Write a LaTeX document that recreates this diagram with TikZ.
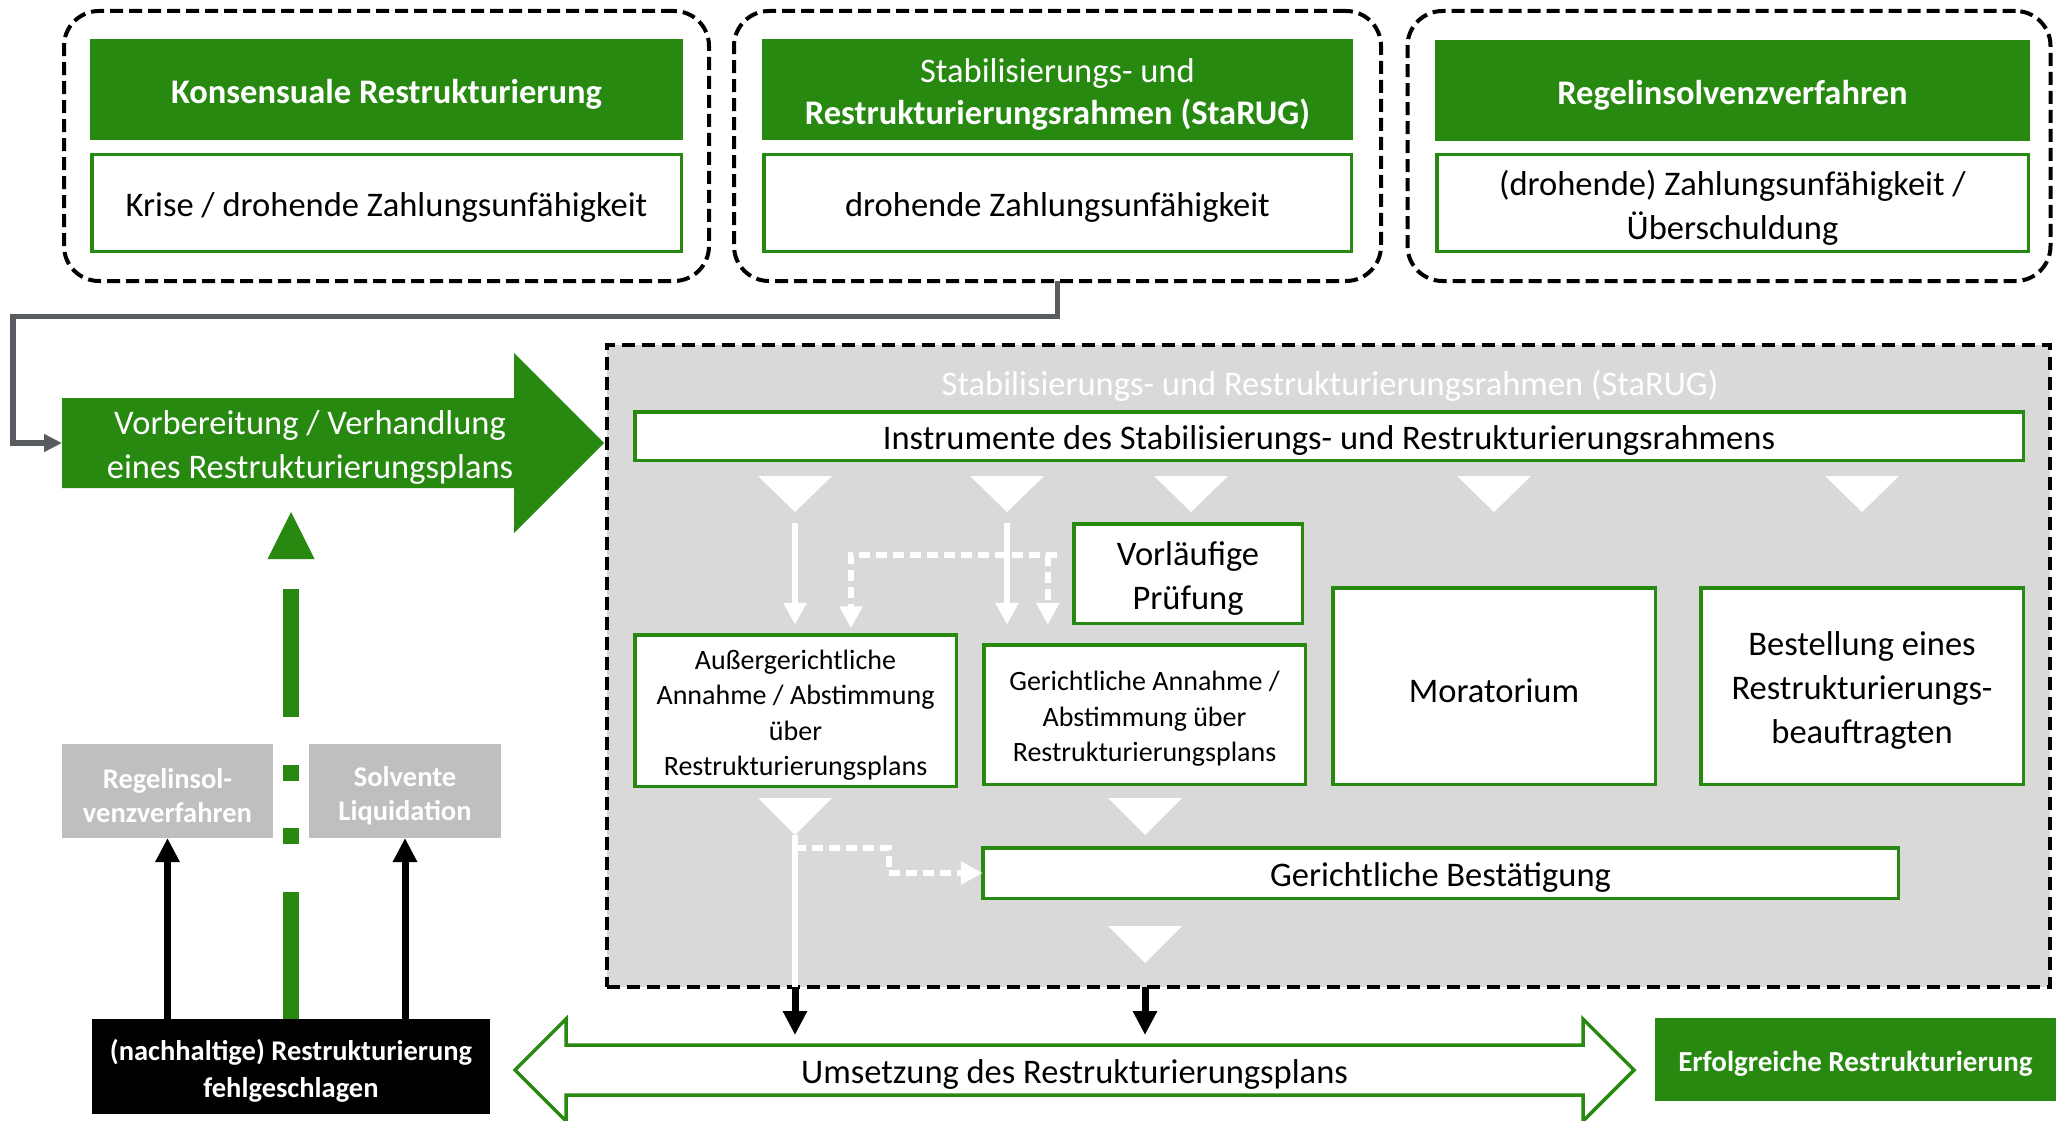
\documentclass[tikz,border=0pt]{standalone}
\usepackage{fontspec}
\setmainfont{Carlito}
\usetikzlibrary{arrows.meta}
\definecolor{grn}{RGB}{40,137,16}
\definecolor{lgray}{RGB}{217,217,217}
\definecolor{mgray}{RGB}{191,191,191}
\definecolor{dgray}{RGB}{88,91,96}
\newcommand\fsM{\fontsize{34.5}{44}\selectfont}
\newcommand\fsH{\fontsize{34.5}{42}\selectfont}
\newcommand\fsS{\fontsize{28}{35.5}\selectfont}
\newcommand\fsB{\fontsize{28.5}{36.5}\selectfont\bfseries}
\newcommand\fsG{\fontsize{28.5}{34}\selectfont\bfseries}
\newcommand\fsE{\fontsize{29}{35}\selectfont\bfseries}
% text of a box, set a little lower than the geometric centre
\newcommand\btext[3]{\node[#2] (#1t) at ([yshift=-4.5pt]#1.center) {#3};}
\begin{document}
\begin{tikzpicture}[x=1pt,y=-1pt,
  every node/.style={inner sep=0pt,outer sep=0pt,align=center},
  frame/.style={draw=black,line width=4pt,dash pattern=on 13pt off 6pt,rounded corners=35pt},
  headbox/.style={fill=grn},
  wbox/.style={draw=grn,fill=white,line width=3.5pt},
  graybox/.style={fill=mgray},
  tH/.style={text=white,font=\fsH},
  tM/.style={text=black,font=\fsM},
  tS/.style={text=black,font=\fsS},
  tG/.style={text=white,font=\fsG},
  warr/.style={draw=white,line width=6.5pt,-{Triangle[width=22pt,length=22pt]}},
  wline/.style={draw=white,line width=6.5pt},
  dotarr/.style={draw=white,line width=6pt,dash pattern=on 11pt off 6pt,-{Triangle[width=22pt,length=22pt]}},
  barr/.style={draw=black,line width=7pt,-{Triangle[width=23pt,length=24pt]}},
  gcon/.style={draw=dgray,line width=5.5pt,-{Triangle[width=17pt,length=18pt]}},
  gdash/.style={draw=grn,line width=16pt,dash pattern=on 127pt off 48pt on 16pt off 47pt on 16pt off 48pt on 128pt off 100pt},
]
\useasboundingbox (0,0) rectangle (2056,1121);
\fill[white] (0,0) rectangle (2056,1121);

% top frames
\node[frame,minimum width=645pt,minimum height=270pt] (f1) at (386.5,146) {};
\node[frame,minimum width=647pt,minimum height=270pt] (f2) at (1057.5,146) {};
\node[frame,minimum width=643pt,minimum height=270pt] (f3) at (1729,146) {};

\node[headbox,minimum width=593pt,minimum height=101pt] (h1) at (386.5,89.5) {};
\btext{h1}{tH}{\textbf{Konsensuale Restrukturierung}}
\node[headbox,minimum width=591pt,minimum height=101pt] (h2) at (1057.5,89.5) {};
\btext{h2}{tH}{Stabilisierungs- und\\\textbf{Restrukturierungsrahmen (StaRUG)}}
\node[headbox,minimum width=595pt,minimum height=101pt] (h3) at (1732.5,90.5) {};
\btext{h3}{tH}{\textbf{Regelinsolvenzverfahren}}

\node[wbox,minimum width=589.5pt,minimum height=96.5pt] (w1) at (386.5,203) {};
\btext{w1}{tM}{Krise / drohende Zahlungsunfähigkeit}
\node[wbox,minimum width=587.5pt,minimum height=96.5pt] (w2) at (1057.5,203) {};
\btext{w2}{tM}{drohende Zahlungsunfähigkeit}
\node[wbox,minimum width=591.5pt,minimum height=96.5pt] (w3) at (1732.5,203) {};
\btext{w3}{tM}{(drohende) Zahlungsunfähigkeit /\\Überschuldung}

% StaRUG area
\node[fill=lgray,draw=black,line width=4pt,dash pattern=on 13pt off 7pt,minimum width=1443pt,minimum height=642pt] (gbox) at (1328.5,666) {};
\node[text=white,font=\fsM] (gtitle) at (1330,386) {Stabilisierungs- und Restrukturierungsrahmen (StaRUG)};

\node[wbox,minimum width=1388.5pt,minimum height=48.5pt] (instr) at (1329,436) {};
\btext{instr}{tM}{Instrumente des Stabilisierungs- und Restrukturierungsrahmens}
\node[wbox,minimum width=228.5pt,minimum height=99.5pt] (vorl) at (1188,573.5) {};
\btext{vorl}{tM}{Vorläufige\\Prüfung}
\node[wbox,minimum width=321.5pt,minimum height=151.5pt] (ausser) at (795.5,710.5) {};
\btext{ausser}{tS}{Außergerichtliche\\Annahme / Abstimmung\\über\\Restrukturierungsplans}
\node[wbox,minimum width=321.5pt,minimum height=139.5pt] (gericht) at (1144.5,714.5) {};
\btext{gericht}{tS}{Gerichtliche Annahme /\\Abstimmung über\\Restrukturierungsplans}
\node[wbox,minimum width=322.5pt,minimum height=196.5pt] (mora) at (1494,686) {};
\btext{mora}{tM}{Moratorium}
\node[wbox,minimum width=322.5pt,minimum height=196.5pt] (best) at (1862,686) {};
\btext{best}{tM}{Bestellung eines\\Restrukturierungs-\\beauftragten}
\node[wbox,minimum width=915.5pt,minimum height=50.5pt] (bestaet) at (1440.5,873) {};
\btext{bestaet}{tM}{Gerichtliche Bestätigung}

% white chevrons
\foreach \n/\x in {1/795,2/1007,3/1191,4/1494,5/1862}{
  \fill[white] (\x-37,476) -- (\x+37,476) -- (\x,512) -- cycle;
  \coordinate (t\n) at (\x,512);
}
\foreach \n/\x/\y in {1/795/798,2/1145/798,3/1145/926}{
  \fill[white] (\x-37,\y) -- (\x+37,\y) -- (\x,\y+37) -- cycle;
  \coordinate (lt\n) at (\x,\y+37);
}

% white arrows
\draw[warr] ([yshift=-11pt]t1) -- ([yshift=10pt]ausser.north -| t1);
\draw[warr] ([yshift=-11pt]t2) -- ([yshift=20pt]gericht.north -| t2);
\coordinate (j1) at ([xshift=-26pt,yshift=18.5pt]vorl.west);
\draw[dotarr] ([xshift=-17pt,yshift=18.5pt]vorl.west) -| ([xshift=55.5pt,yshift=6.5pt]ausser.north);
\draw[dotarr] (j1) -- ([yshift=20pt]gericht.north -| j1);

\draw[wline] (lt1) -- (lt1 |- gbox.south);
\draw[dotarr] ([yshift=-13pt]lt1) -- ++(94,0) |- (bestaet.west);

% left big arrow
\node[minimum width=452pt,minimum height=90pt] (prep) at (288,443) {};
\fill[grn] (prep.north west) -- (prep.north east) -- (514,353) -- (604,443) -- (514,533) -- (prep.south east) -- (prep.south west) -- cycle;
\node[text=white,font=\fsM] (preptxt) at (310,447) {Vorbereitung / Verhandlung\\eines Restrukturierungsplans};

\draw[gcon] (f2.south) -- ++(0,35.5) -- ++(-1044.5,0) |- (prep.west);

% bottom double arrow
\filldraw[fill=white,draw=grn,line width=3.5pt] (515,1070) -- (566,1019) -- (566,1045) -- (1583,1045) -- (1583,1019) -- (1634,1070) -- (1583,1121) -- (1583,1095) -- (566,1095) -- (566,1121) -- cycle;
\node[minimum width=1017pt,minimum height=50pt] (umsetz) at (1074.5,1070) {};
\btext{umsetz}{tM}{Umsetzung des Restrukturierungsplans}

\draw[barr] (lt1 |- gbox.south) -- ([yshift=10pt]lt1 |- umsetz.north);
\draw[barr] (lt3 |- gbox.south) -- ([yshift=10pt]lt3 |- umsetz.north);

\node[fill=grn,minimum width=401pt,minimum height=83pt] (erfolg) at (1855.5,1059.5) {};
\btext{erfolg}{text=white,font=\fsE}{Erfolgreiche Restrukturierung}

% failure branch
\node[fill=black,minimum width=398pt,minimum height=95pt] (fail) at (291,1066.5) {};
\btext{fail}{text=white,font=\fsB}{(nachhaltige) Restrukturierung\\fehlgeschlagen}
\node[graybox,minimum width=211pt,minimum height=94pt] (regel) at (167.5,791) {};
\btext{regel}{tG}{Regelinsol-\\venzverfahren}
\node[graybox,minimum width=192pt,minimum height=94pt] (solv) at (405,791) {};
\btext{solv}{tG}{Solvente\\Liquidation}

\draw[barr] (fail.north -| regel.south) -- (regel.south);
\draw[barr] (fail.north -| solv.south) -- (solv.south);

\coordinate (gtop) at ([yshift=-101pt]prep.south -| fail.north);
\draw[gdash] (fail.north) -- (gtop);
\fill[grn] ([yshift=-24pt]prep.south -| fail.north) -- ++(23.5,47) -- ++(-47,0) -- cycle;
\end{tikzpicture}
\end{document}
